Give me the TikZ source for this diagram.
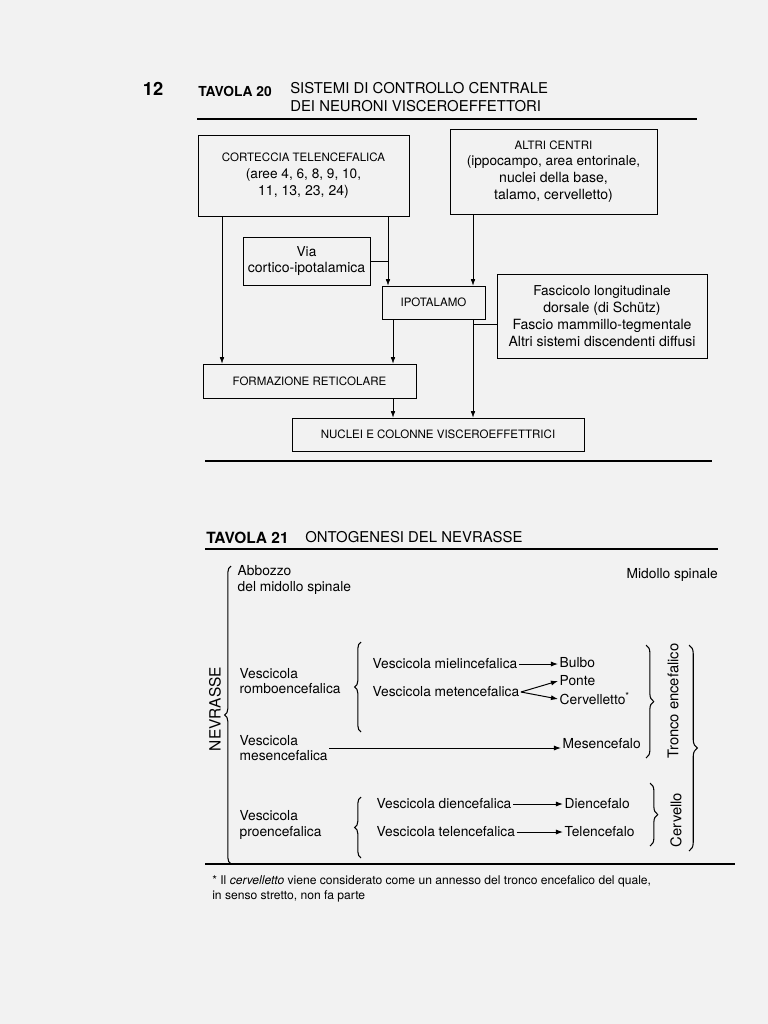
\documentclass[tikz,border=0pt]{standalone}
\usepackage{fontspec}
\setmainfont{TeX Gyre Heros}
\usetikzlibrary{arrows.meta,positioning,calc,decorations.pathreplacing}

\newcommand{\capsize}{\fontsize{8.2pt}{11.6pt}\selectfont}
\newcommand{\txtsize}{\fontsize{9.7pt}{11.8pt}\selectfont}
\newcommand{\tabsize}{\fontsize{9.8pt}{10.9pt}\selectfont}

\begin{document}
\begin{tikzpicture}[
    x=0.025cm, y=-0.025cm,
    >={Latex[length=4.5pt,width=3.2pt]},
    box/.style={
        draw,
        line width=0.6pt,
        align=center,
        inner sep=0pt
    },
    lbl/.style={
        anchor=west,
        align=left,
        inner sep=1pt,
        font=\tabsize
    },
    devel/.style={
        -{Latex[length=5pt,width=3.6pt]},
        line width=0.7pt
    },
    rule/.style={line width=1pt},
    brc/.style={decorate, line width=0.75pt}
]

\fill[black!5] (0,0) rectangle (768,1024);
\useasboundingbox (0,0) rectangle (768,1024);

% ------------------------------------------------
% Tavola 20: heading
% ------------------------------------------------

\node[font=\bfseries\fontsize{13pt}{13pt}\selectfont, inner sep=0pt]
    (pagenum) at (153, 89) {12};
\node[font=\bfseries\fontsize{9.8pt}{10pt}\selectfont, anchor=west, inner sep=0pt]
    (tav20) at (198, 91) {TAVOLA 20};
\node[font=\fontsize{10.6pt}{12.8pt}\selectfont, anchor=west, align=left, inner sep=0pt]
    (title20) at (290, 97)
    {SISTEMI DI CONTROLLO CENTRALE\\DEI NEURONI VISCEROEFFETTORI};

\draw[rule] (197, 119) -- (697, 119);

% ------------------------------------------------
% Tavola 20: boxes
% ------------------------------------------------

\node[box, minimum width=5.275cm, minimum height=2.025cm] (cortex) at (303.5, 175.5)
    {\capsize CORTECCIA TELENCEFALICA\\\txtsize (aree 4, 6, 8, 9, 10,\\11, 13, 23, 24)};

\node[box, minimum width=5.175cm, minimum height=2.125cm] (altri) at (553.5, 171.5)
    {\capsize ALTRI CENTRI\\\txtsize (ippocampo, area entorinale,\\nuclei della base,\\talamo, cervelletto)};

\node[box, minimum width=3.175cm, minimum height=1.2cm] (via) at (306.5, 261)
    {\txtsize Via\\cortico-ipotalamica};

\node[box, minimum width=2.575cm, minimum height=0.825cm] (ipo) at (433.5, 302.5)
    {\capsize IPOTALAMO};

\node[box, minimum width=5.25cm, minimum height=2.1cm] (fasc) at (602, 316)
    {\txtsize Fascicolo longitudinale\\dorsale (di Schütz)\\Fascio mammillo-tegmentale\\Altri sistemi discendenti diffusi};

\node[box, minimum width=5.325cm, minimum height=0.85cm] (form) at (309.5, 381)
    {\capsize FORMAZIONE RETICOLARE};

\node[box, minimum width=7.3cm, minimum height=0.825cm] (nuclei) at (438, 434.5)
    {\capsize NUCLEI E COLONNE VISCEROEFFETTRICI};

% ------------------------------------------------
% Tavola 20: connections
% ------------------------------------------------

\coordinate (colA) at (222, 0);
\coordinate (colB) at (388, 0);
\coordinate (colC) at (473, 0);
\coordinate (colD) at (393, 0);

\draw[->] (cortex.south -| colA) -- (form.north -| colA);
\draw[->] (cortex.south -| colB) -- (ipo.north -| colB);
\draw (via.east) -- (via.east -| colB);
\draw[->] (altri.south -| colC) -- (ipo.north -| colC);

\draw[->] (ipo.south -| colD) -- (form.north -| colD);
\draw[->] (ipo.south -| colC) -- (nuclei.north -| colC);
\draw ([yshift=-0.2cm]fasc.west) -- ([yshift=-0.2cm]fasc.west -| colC);

\draw[->] (form.south -| colD) -- (nuclei.north -| colD);

\draw[rule] (205, 461) -- (712, 461);

% ------------------------------------------------
% Tavola 21: heading
% ------------------------------------------------

\node[font=\bfseries\fontsize{11pt}{11pt}\selectfont, anchor=west, inner sep=0pt]
    (tav21) at (206, 538) {TAVOLA 21};
\node[font=\fontsize{10.6pt}{12pt}\selectfont, anchor=west, inner sep=0pt]
    (title21) at (305, 537) {ONTOGENESI DEL NEVRASSE};

\draw[rule] (205, 549) -- (718, 549);

% ------------------------------------------------
% Tavola 21: vesicles
% ------------------------------------------------

\node[lbl] (abbozzo) at (236, 580) {Abbozzo\\del midollo spinale};
\node[lbl] (midollo) at (625, 575) {Midollo spinale};

\node[lbl] (rombo) at (238, 681) {Vescicola\\romboencefalica};
\node[lbl] (mielin) at (371, 664) {Vescicola mielincefalica};
\node[lbl] (meten) at (371, 692) {Vescicola metencefalica};
\node[lbl] (bulbo) at (558, 663) {Bulbo};
\node[lbl] (ponte) at (558, 681) {Ponte};
\node[lbl] (cervel) at (558, 699) {Cervelletto\textsuperscript{*}};

\node[lbl] (meso) at (238, 748) {Vescicola\\mesencefalica};
\node[lbl] (mesenc) at (561, 744) {Mesencefalo};

\node[lbl] (proen) at (238, 825) {Vescicola\\proencefalica};
\node[lbl] (dien) at (375, 804) {Vescicola diencefalica};
\node[lbl] (telen) at (375, 832) {Vescicola telencefalica};
\node[lbl] (diencef) at (563, 804) {Diencefalo};
\node[lbl] (telencef) at (563, 832) {Telencefalo};

\node[rotate=90, font=\fontsize{11pt}{12pt}\selectfont, inner sep=0pt]
    (nevrasse) at (215, 709) {NEVRASSE};
\node[rotate=90, font=\fontsize{10.5pt}{12pt}\selectfont, inner sep=0pt]
    (tronco) at (673, 701) {Tronco encefalico};
\node[rotate=90, font=\fontsize{10.5pt}{12pt}\selectfont, inner sep=0pt]
    (cervello) at (676, 820) {Cervello};

% ------------------------------------------------
% Tavola 21: arrows
% ------------------------------------------------

\draw[devel] (mielin.east) -- (mielin.east -| bulbo.west);
\draw[devel] (meten.east) -- (ponte.west);
\draw[devel] (meten.east) -- (cervel.west);
\draw[devel] (meso.east) -- (meso.east -| mesenc.west);
\draw[devel] (dien.east) -- (dien.east -| diencef.west);
\draw[devel] (telen.east) -- (telen.east -| telencef.west);

% ------------------------------------------------
% Tavola 21: braces
% ------------------------------------------------

\draw[brc, decoration={brace, amplitude=4.5pt}] (231, 864) -- (231, 566);
\draw[brc, decoration={brace, amplitude=4.5pt}] (361, 732) -- (361, 642);
\draw[brc, decoration={brace, amplitude=4.5pt}] (361, 858) -- (361, 797);
\draw[brc, decoration={brace, amplitude=5.5pt}] (646, 645) -- (646, 758);
\draw[brc, decoration={brace, amplitude=5.5pt}] (650, 783) -- (650, 846);
\draw[brc, decoration={brace, amplitude=6pt}] (689, 645) -- (689, 851);

\draw[rule] (205, 864) -- (735, 864);

% Footnote
\node[anchor=west, align=left, inner sep=0pt, font=\fontsize{8.6pt}{10.7pt}\selectfont]
    (nota) at (212, 889)
    {* Il \textit{cervelletto} viene considerato come un annesso del tronco encefalico del quale,\\in senso stretto, non fa parte};

\end{tikzpicture}
\end{document}
